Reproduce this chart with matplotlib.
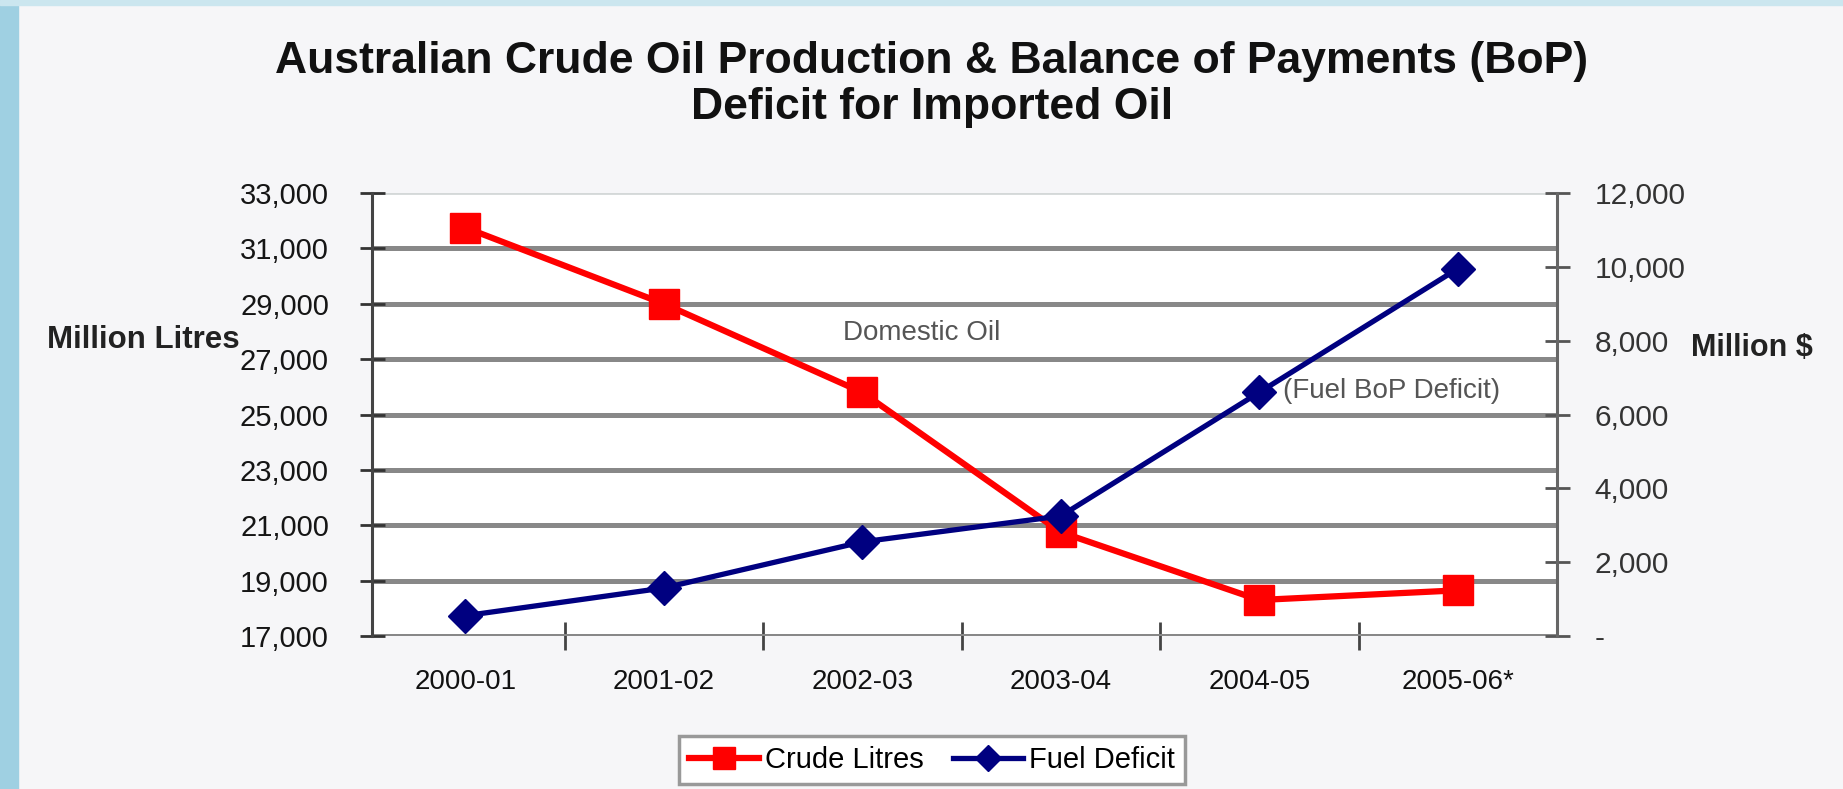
import matplotlib.pyplot as plt
from matplotlib.patches import Rectangle

plt.rcParams['font.family'] = ['Liberation Sans', 'DejaVu Sans']

years = ['2000-01', '2001-02', '2002-03', '2003-04', '2004-05', '2005-06*']
crude_litres = [31750, 29000, 25800, 20750, 18300, 18650]
fuel_deficit = [550, 1300, 2550, 3250, 6600, 9950]
left_ticks = list(range(17000, 33001, 2000))
right_ticks = list(range(0, 12001, 2000))

W, H = 1843, 789
fig = plt.figure(figsize=(W / 100, H / 100), dpi=100)
fig.patch.set_facecolor('#f6f6f8')

# bluish strip on the left and top edge of the picture
fig.add_artist(Rectangle((0, 0), 18 / W, 1, transform=fig.transFigure, color='#9fd0e2', zorder=0))
fig.add_artist(Rectangle((0, 1 - 5 / H), 1, 5 / H, transform=fig.transFigure, color='#cbe6ef', zorder=0))

def fx(px):
    return px / W

def fy(py):
    return 1 - py / H

ax = fig.add_axes([fx(372), fy(636), (1557 - 372) / W, (636 - 193) / H])
ax.set_facecolor('white')
ax2 = ax.twinx()

x = range(len(years))
ax.plot(x, crude_litres, color='#ff0000', lw=4.5, marker='s', ms=21, mec='#ff0000',
        label='Crude Litres', zorder=5)
ax2.plot(x, fuel_deficit, color='#000080', lw=3.8, marker='D', ms=17, mec='#000080',
         label='Fuel Deficit', zorder=5)

ax.set_xlim(-0.47, 5.5)
ax.set_ylim(17000, 33000)
ax2.set_ylim(0, 12000)
ax.set_yticks(left_ticks)
ax.set_yticklabels([f'{v:,}' for v in left_ticks])
ax2.set_yticks(right_ticks)
ax2.set_yticklabels(['-' if v == 0 else f'{v:,}' for v in right_ticks])

ax.set_xticks(list(x))
ax.set_xticklabels(years)
ax.set_xticks([i + 0.5 for i in range(5)], minor=True)
ax.tick_params(axis='x', which='major', length=0, pad=24, labelsize=20, labelcolor='#111111')
ax.tick_params(axis='x', which='minor', direction='inout', length=20, width=2, color='#444444')
ax.tick_params(axis='y', direction='inout', length=18, width=2, color='#333333',
               labelsize=21, labelcolor='#151515', pad=22)
ax2.tick_params(axis='y', direction='inout', length=18, width=2, color='#555555',
                labelsize=21.5, labelcolor='#333333', pad=18)

ax.grid(axis='y', color='#888888', lw=3.6)
ax.get_ygridlines()[-1].set_color('#d4d8d8')
ax.get_ygridlines()[-1].set_linewidth(2)
ax.set_axisbelow(True)

for a in (ax, ax2):
    a.spines['top'].set_visible(False)
    a.spines['bottom'].set_visible(False)
ax.spines['left'].set_color('#444444')
ax.spines['left'].set_linewidth(2.2)
ax2.spines['right'].set_color('#666666')
ax2.spines['right'].set_linewidth(2.2)
ax2.spines['left'].set_visible(False)

ax.text(2.3, 27950, 'Domestic Oil', color='#555555', fontsize=20, ha='center', va='center')
ax2.text(4.12, 6650, '(Fuel BoP Deficit)', color='#555555', fontsize=20, ha='left', va='center')

fig.text(fx(932), fy(73), 'Australian Crude Oil Production & Balance of Payments (BoP)',
         ha='center', va='baseline', fontsize=32, weight='bold', color='#111111')
fig.text(fx(932), fy(119), 'Deficit for Imported Oil',
         ha='center', va='baseline', fontsize=32, weight='bold', color='#111111')

fig.text(fx(47), fy(340), 'Million Litres', ha='left', va='center', fontsize=22.5,
         weight='bold', color='#222222')
fig.text(fx(1691), fy(348), 'Million $', ha='left', va='center', fontsize=22,
         weight='bold', color='#222222')

h1, l1 = ax.get_legend_handles_labels()
h2, l2 = ax2.get_legend_handles_labels()
leg = fig.legend(h1 + h2, l1 + l2, loc='center', bbox_to_anchor=(fx(932), fy(760)),
                 ncol=2, fontsize=21, frameon=True, fancybox=False, edgecolor='#999999',
                 framealpha=1, handlelength=2.4, markerscale=0.75, columnspacing=1.0,
                 handletextpad=0.2, borderpad=0.35)
leg.get_frame().set_linewidth(2.5)

fig.savefig('out.png', dpi=100, facecolor=fig.get_facecolor())
